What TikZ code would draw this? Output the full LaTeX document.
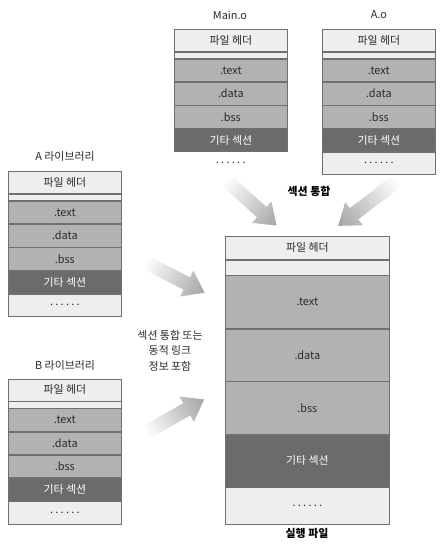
\documentclass[tikz,border=0pt]{standalone}
\usepackage{fontspec}
\setmainfont{Noto Sans CJK KR}
\usetikzlibrary{positioning}
\definecolor{linec}{HTML}{707070}
\definecolor{lightc}{HTML}{EEEEEE}
\definecolor{midc}{HTML}{B2B2B2}
\definecolor{darkc}{HTML}{6B6B6B}
\definecolor{txtc}{HTML}{2A2A2A}
\definecolor{arrowc}{HTML}{A4A4A4}
\newcommand\fs{\fontsize{10.9}{13}\selectfont}
\newcommand\dotrow{.\hspace{2.3pt}.\hspace{2.3pt}.\hspace{2.3pt}.\hspace{2.3pt}.\hspace{2.3pt}.}
\tikzset{
  cell/.style={draw=linec, line width=0.7pt, inner sep=0pt, anchor=north west, text=txtc, font=\fs},
  hdrcell/.style={cell, fill=lightc},
  midcell/.style={cell, fill=midc},
  darkcell/.style={cell, fill=darkc, text=white},
  nocell/.style={inner sep=0pt, anchor=north west, text=txtc, font=\fs},
  lbl/.style={inner sep=0pt, text=txtc, font=\fs},
  boldlbl/.style={inner sep=0pt, text=black, font=\fs\bfseries},
}
% small object stack: #1 prefix, #2 x, #3 y, #4 dots style
\newcommand\smallstack[4]{%
  \node[hdrcell, minimum width=113, minimum height=22] (#1h) at (#2,#3) {파일 헤더};
  \node[hdrcell, minimum width=113, minimum height=6.5] (#1b) at (#1h.south west) {};
  \node[midcell, minimum width=113, minimum height=22.5] (#1t) at (#1b.south west) {.text};
  \node[midcell, minimum width=113, minimum height=22.5] (#1d) at (#1t.south west) {.data};
  \node[midcell, minimum width=113, minimum height=22.5] (#1s) at (#1d.south west) {.bss};
  \node[darkcell, minimum width=113, minimum height=22.5] (#1e) at (#1s.south west) {기타 섹션};
  \node[#4, minimum width=113, minimum height=22.5] (#1x) at (#1e.south west) {\dotrow};
}
% fat shaded arrow: #1 tail coordinate, #2 angle, #3 length
\newcommand\fatarrow[3]{%
  \begin{scope}[transform canvas={shift={(#1)}, rotate=#2}]
    \shade[left color=white, right color=arrowc]
      (0,7) -- ({#3-20},7) -- ({#3-20},14.5) -- (#3,0) -- ({#3-20},-14.5) -- ({#3-20},-7) -- (0,-7) -- cycle;
  \end{scope}%
}
\begin{document}
\begin{tikzpicture}[x=1pt, y=-1pt]
\useasboundingbox (0,0) rectangle (441,553);
\fill[white] (0,0) rectangle (441,553);

% arrows
\coordinate (tl) at (226,180);
\coordinate (tr) at (397,181);
\coordinate (al) at (145,262);
\coordinate (bl) at (145,433);
\fatarrow{tl}{-42}{68}
\fatarrow{tr}{-142.7}{74}
\fatarrow{al}{-27.3}{67}
\fatarrow{bl}{29.6}{68}

% Main.o
\node[lbl] (mainlbl) at (230,15) {Main.o};
\smallstack{m}{174}{29}{nocell}
% A.o
\node[lbl] (aolbl) at (379,15) {A.o};
\smallstack{o}{322}{29}{hdrcell}
% A library
\node[lbl] (alibl) at (65,156) {A 라이브러리};
\smallstack{a}{8}{171}{hdrcell}
% B library
\node[lbl] (blibl) at (65,365) {B 라이브러리};
\smallstack{b}{8}{378.5}{hdrcell}

\node[boldlbl] (merge) at (309,191) {섹션 통합};

% executable
\node[hdrcell, minimum width=164, minimum height=23] (eh) at (225,236) {파일 헤더};
\node[hdrcell, minimum width=164, minimum height=15] (eb) at (eh.south west) {};
\node[midcell, minimum width=164, minimum height=53] (et) at (eb.south west) {.text};
\node[midcell, minimum width=164, minimum height=51.5] (ed) at (et.south west) {.data};
\node[midcell, minimum width=164, minimum height=52.5] (es) at (ed.south west) {.bss};
\node[darkcell, minimum width=164, minimum height=52] (ee) at (es.south west) {기타 섹션};
\node[hdrcell, minimum width=164, minimum height=37] (ex) at (ee.south west) {\dotrow};
\node[boldlbl] (exelbl) at (307,533) {실행 파일};

\node[lbl, align=center, font=\fs\linespread{1.2}\selectfont] (side) at (170,350.5) {섹션 통합 또는\\동적 링크\\정보 포함};
\end{tikzpicture}
\end{document}
